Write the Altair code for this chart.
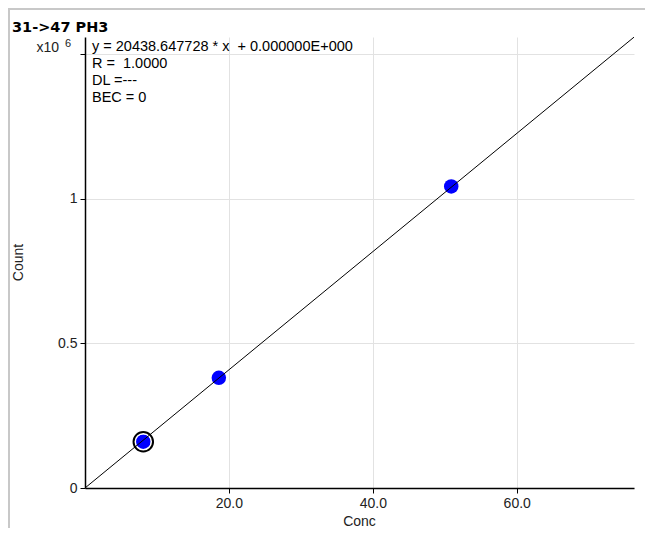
import altair as alt
import pandas as pd

# ---- data ----
conc = [8.1, 18.6, 50.9]
count = [160000, 381000, 1043000]
selected = [True, False, False]
slope = 20438.647728
intercept = 0.0
x_max = 76.3
y_max = 1.56e6
title_text = "31->47 PH3"
stats_lines = ["y = 20438.647728 * x \u00a0+ 0.000000E+000", "R = \u00a01.0000", "DL =---", "BEC = 0"]
x_ticks = [20, 40, 60]
y_ticks = [0, 500000, 1000000, 1500000]

FONT = "Liberation Sans"
TXT = "#222222"
GRID = "#e2e2e2"

pts = pd.DataFrame({"Conc": conc, "Count": count, "sel": selected})
fit = pd.DataFrame({"Conc": [0, x_max], "Count": [intercept, intercept + slope * x_max]})
one = pd.DataFrame({"k": [0]})

xs = alt.Scale(domain=[0, x_max], nice=False, zero=False)
ys = alt.Scale(domain=[0, y_max], nice=False)

x_axis = alt.Axis(values=x_ticks, format=".1f", title="Conc", grid=True, gridColor=GRID,
                  domainColor="black", domainWidth=1.5, tickColor="black", tickSize=5,
                  labelFont=FONT, labelFontSize=14, labelColor=TXT, labelPadding=3,
                  titleFont=FONT, titleFontSize=14, titleFontWeight="normal", titleColor=TXT,
                  titleX=274, titleY=33, titleBaseline="middle", titleAlign="center")
y_axis = alt.Axis(values=y_ticks, title="Count", grid=True, gridColor=GRID,
                  labelExpr="datum.value == 0 ? '0' : (datum.value >= 1500000 ? '' : format(datum.value / 1000000, ''))",
                  domainColor="black", domainWidth=1.5, tickColor="black", tickSize=5,
                  labelFont=FONT, labelFontSize=14, labelColor=TXT, labelPadding=3,
                  titleFont=FONT, titleFontSize=14, titleFontWeight="normal", titleColor=TXT,
                  titleX=-67, titleY=225, titleBaseline="middle", titleAlign="center", titleAngle=270)

X = alt.X("Conc:Q", scale=xs, axis=x_axis)
Y = alt.Y("Count:Q", scale=ys, axis=y_axis)

points = alt.Chart(pts).mark_circle(size=210, color="#0000ff", opacity=1).encode(x=X, y=Y)
ring_white = alt.Chart(pts).transform_filter("datum.sel").mark_point(
    shape="circle", size=280, filled=False, stroke="white", strokeWidth=1.5, opacity=1).encode(x=X, y=Y)
ring_black = alt.Chart(pts).transform_filter("datum.sel").mark_point(
    shape="circle", size=380, filled=False, stroke="black", strokeWidth=2, opacity=1).encode(x=X, y=Y)
line = alt.Chart(fit).mark_line(color="black", strokeWidth=1).encode(x=X, y=Y)

title = alt.Chart(one).mark_text(text=title_text, font="DejaVu Sans", fontSize=14.5, fontWeight="bold",
                                 align="left", baseline="middle", color="black").encode(
    x=alt.value(-73), y=alt.value(-9))
x10 = alt.Chart(one).mark_text(text="x10", font=FONT, fontSize=14, align="right", baseline="middle",
                               color=TXT).encode(x=alt.value(-26), y=alt.value(11))
sup = alt.Chart(one).mark_text(text="6", font=FONT, fontSize=11, align="left", baseline="middle",
                               color=TXT).encode(x=alt.value(-20), y=alt.value(7))
stats = alt.Chart(one).mark_text(text=stats_lines, font=FONT, fontSize=14.5, lineHeight=17,
                                 align="left", baseline="middle", color="black").encode(
    x=alt.value(7), y=alt.value(10))

frame_top = alt.Chart(one).mark_rule(color="#c8c8c8", strokeWidth=2).encode(
    x=alt.value(-77), x2=alt.value(570), y=alt.value(-28))
frame_left = alt.Chart(one).mark_rule(color="#c8c8c8", strokeWidth=2).encode(
    x=alt.value(-76), y=alt.value(-29), y2=alt.value(495))

chart = alt.layer(frame_top, frame_left, points, ring_white, ring_black, line,
                  title, x10, sup, stats).properties(
    width=549, height=451,
    autosize=alt.AutoSizeParams(type="none"),
    padding={"left": 77, "top": 29, "right": 11, "bottom": 40},
    background="white",
).configure_view(stroke=None)

chart.save("out.html", embed_options={"renderer": "svg", "actions": False})
